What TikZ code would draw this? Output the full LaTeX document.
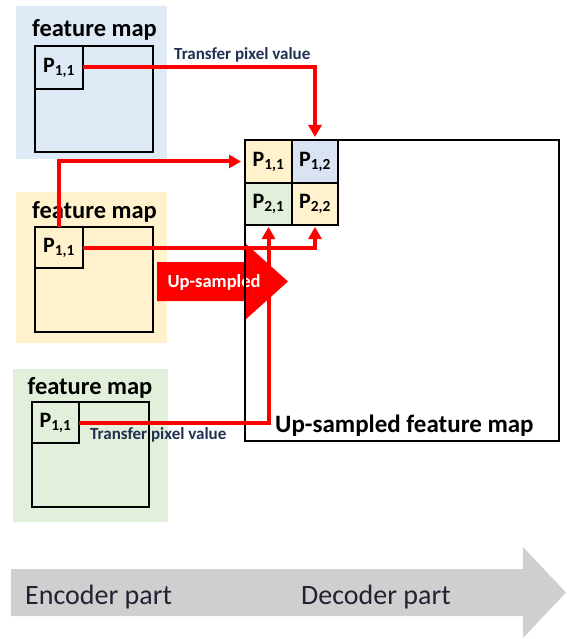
\documentclass[tikz,border=0pt]{standalone}
\usepackage{fontspec}
\setmainfont{Carlito}
\usetikzlibrary{arrows.meta}
\definecolor{bgblue}{HTML}{DEEAF6}
\definecolor{bgorange}{HTML}{FFF2CC}
\definecolor{bggreen}{HTML}{E2EFDA}
\definecolor{cellblue}{HTML}{DAE3F3}
\definecolor{arrowgray}{HTML}{D0CECE}
\definecolor{navytext}{HTML}{203050}
\definecolor{darktext}{HTML}{222233}
\begin{document}
\begin{tikzpicture}[x=1pt,y=-1pt,
  panelbg/.style={draw=none, inner sep=0pt, outer sep=0pt},
  mapbox/.style={draw=black, line width=2pt, inner sep=0pt, outer sep=0pt},
  pcell/.style={draw=black, line width=2pt, inner sep=0pt, outer sep=0pt,
    font=\bfseries\fontsize{22}{22}\selectfont, text=black},
  ttl/.style={font=\bfseries\fontsize{24.5}{24.5}\selectfont, inner sep=0pt, text=black},
  smalltxt/.style={font=\bfseries\fontsize{17}{17}\selectfont, inner sep=0pt, text=navytext},
  enctxt/.style={font=\fontsize{28}{28}\selectfont, inner sep=0pt, text=darktext},
  redline/.style={draw=red, line width=4pt, -{Triangle[width=13pt,length=12pt]}},
]
\useasboundingbox (0,0) rectangle (566,639);

% panel backgrounds
\node[panelbg, fill=bgblue, minimum width=151pt, minimum height=153pt] (bg1) at (91.5,82.5) {};
\node[panelbg, fill=bgorange, minimum width=151pt, minimum height=151pt] (bg2) at (91.5,267.5) {};
\node[panelbg, fill=bggreen, minimum width=155pt, minimum height=153pt] (bg3) at (90.5,445.5) {};

% titles
\node[ttl, anchor=base] (t1) at (94.5,37) {feature map};
\node[ttl, anchor=base] (t2) at (94.5,218) {feature map};
\node[ttl, anchor=base] (t3) at (90,394) {feature map};

% feature maps
\node[mapbox, minimum width=118pt, minimum height=106pt] (m1) at (94,99) {};
\node[mapbox, minimum width=118pt, minimum height=105pt] (m2) at (94,279.5) {};
\node[mapbox, minimum width=117pt, minimum height=105pt] (m3) at (90.5,454.5) {};

\node[pcell, minimum width=48pt, minimum height=43pt] (c1) at (59,67.5) {P\textsubscript{1,1}};
\node[pcell, minimum width=48pt, minimum height=41pt] (c2) at (59,247.5) {P\textsubscript{1,1}};
\node[pcell, minimum width=47pt, minimum height=41pt] (c3) at (55.5,422.5) {P\textsubscript{1,1}};

% big up-sampled map
\node[mapbox, fill=white, minimum width=314pt, minimum height=301pt] (big) at (402,290.5) {};

% Up-sampled arrow
\fill[red] (157,262) -- (245,262) -- (245,243) -- (288,281.5) -- (245,320) -- (245,301) -- (157,301) -- cycle;
\node[font=\bfseries\fontsize{18.5}{18.5}\selectfont, text=white, inner sep=0pt] (ups) at (214,282) {Up-sampled};
\draw[line width=2pt] (big.north west) -- (big.south west);

% grid
\node[pcell, fill=bgorange, minimum width=47pt, minimum height=43pt] (g11) at (268.5,161.5) {P\textsubscript{1,1}};
\node[pcell, fill=cellblue, minimum width=46pt, minimum height=43pt] (g12) at (315,161.5) {P\textsubscript{1,2}};
\node[pcell, fill=bggreen, minimum width=47pt, minimum height=42pt] (g21) at (268.5,204) {P\textsubscript{2,1}};
\node[pcell, fill=bgorange, minimum width=46pt, minimum height=42pt] (g22) at (315,204) {P\textsubscript{2,2}};

\node[ttl, font=\bfseries\fontsize{25}{25}\selectfont, anchor=base west] (ufm) at (275,432) {Up-sampled feature map};

% transfer lines
\draw[redline, shorten >=3pt] (c1.east) -| (g12.north);
\draw[redline, shorten >=4pt] (c2.north) |- (g11.west);
\draw[redline, shorten >=2pt] (c2.east) -| (g22.south);
\draw[redline, shorten >=2pt] (c3.east) -| (g21.south);

\node[smalltxt, anchor=base west] (tr1) at (174,60) {Transfer pixel value};
\node[smalltxt, anchor=base west] (tr2) at (90,439) {Transfer pixel value};

% encoder / decoder arrow
\fill[arrowgray] (11,569) -- (523,569) -- (523,547) -- (566,592.5) -- (523,638) -- (523,616) -- (11,616) -- cycle;
\node[enctxt, anchor=base west] (enc) at (25,604) {Encoder part};
\node[enctxt, anchor=base west] (dec) at (301,604) {Decoder part};
\end{tikzpicture}
\end{document}
